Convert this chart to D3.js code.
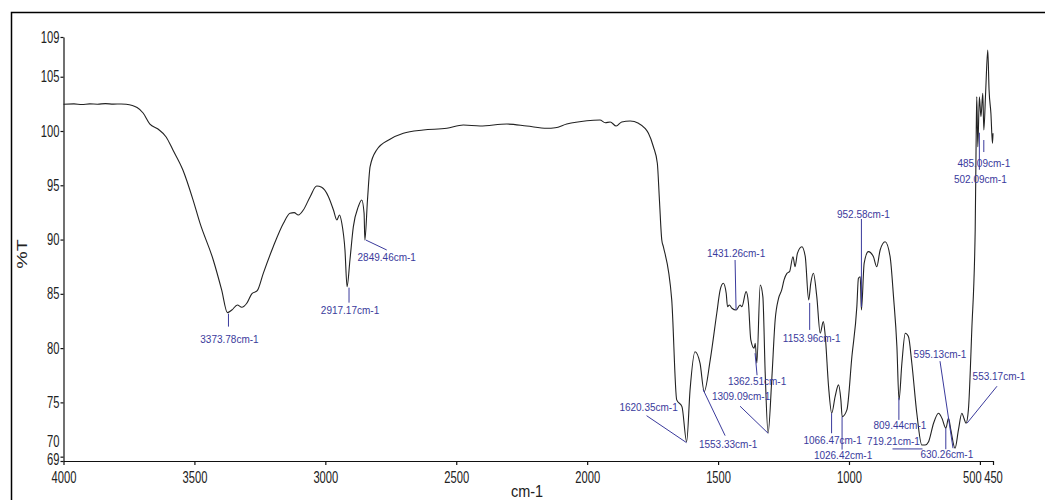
<!DOCTYPE html>
<html><head><meta charset="utf-8">
<script src="https://cdn.jsdelivr.net/npm/d3@7"></script>
<style>body{margin:0;background:#fff;}svg{display:block;}</style>
</head><body>
<svg id="chart" width="1045" height="500"></svg>
<script>
// ---- data (wavenumber cm-1, %T) ----
const wavenumbers = [4000,3960,3930,3900,3870,3840,3810,3780,3761,3719,3696,3670,3639,3608,3582,3544,3505,3479,3428,3396,3374,3357,3336,3319,3300,3281,3260,3237,3199,3160,3135,3119,3103,3084,3058,3033,3014,2988,2969,2956,2946,2937,2925,2917,2906,2893,2874,2861,2852,2849,2839,2829,2804,2753,2702,2626,2536,2473,2409,2307,2231,2154,2122,2078,2001,1951,1931,1912,1889,1868,1836,1804,1779,1766,1747,1732,1724,1715,1709,1677,1658,1638,1620,1607,1588,1569,1553,1530,1505,1492,1480,1469,1464,1457,1447,1431,1416,1409,1393,1384,1375,1362.5,1358,1352,1339,1329,1320,1309,1295,1282,1269,1257,1248,1237,1227,1214,1206,1197,1180,1167,1154,1146,1136,1123,1110,1098,1091,1078,1066,1053,1040,1031,1026,1008,989,970,964,957,952.6,942,926,907,894,881,862,843,830,817,809,798,785,773,760,741,722,709,696,677,658,645,630,620,611,595,582,569,561,553,544,531,518,514,512,508,502,496,489,485,478,470,465,458,452,450];
const transmittance = [102.46,102.50,102.44,102.50,102.47,102.52,102.48,102.49,102.46,102.16,101.66,100.64,100.18,99.45,98.25,96.41,93.64,91.53,88.12,85.36,83.27,83.51,83.97,83.76,84.13,84.99,85.29,86.89,89.34,91.50,92.42,92.48,92.26,92.72,93.95,94.93,94.81,93.95,92.72,91.80,92.26,91.50,89.04,85.66,88.12,91.19,93.03,93.65,92.42,89.96,93.65,96.71,98.25,99.24,99.79,100.09,100.25,100.55,100.46,100.64,100.46,100.25,100.30,100.64,100.95,101.01,100.76,100.83,100.46,100.83,100.92,100.71,100.25,99.79,98.55,97.03,93.65,89.96,89.35,84.44,75.23,74.61,71.38,76.15,79.67,78.61,75.99,78.91,83.21,85.36,85.97,85.05,83.82,83.97,83.67,83.51,83.97,83.82,85.20,84.13,80.75,79.99,80.45,78.61,85.82,84.74,77.68,72.16,77.07,82.59,84.59,85.36,86.28,86.89,87.04,88.42,87.50,88.73,89.34,88.42,84.44,85.97,86.89,84.74,81.37,82.44,81.21,76.45,74.00,75.53,76.61,75.23,73.69,74.31,79.21,83.82,86.43,86.58,83.51,87.82,88.89,88.43,87.50,89.04,89.80,88.42,84.74,80.13,75.23,78.61,81.37,81.06,78.61,74.00,71.08,71.08,71.38,73.08,74.00,73.54,72.62,73.54,72.46,70.78,72.46,74.00,73.54,73.08,74.31,81.67,90.88,100.09,103.16,98.55,103.16,101.32,103.47,100.09,103.62,107.46,103.78,101.63,98.87,99.79];

const xTickValues = [4000,3500,3000,2500,2000,1500,1000,500,450];
const yTickValues = [69.6,70,75,80,85,90,95,100,105,108.66];
const yTickLabels = ["69","70","75","80","85","90","95","100","105","109"];

const peakWavenumbers = [3373.78,2917.17,2849.46,1431.26,1362.51,1309.09,1620.35,1553.33,1153.96,952.58,1066.47,1026.42,809.44,719.21,630.26,595.13,553.17,485.09,502.09];
const peakT = [83.27,85.66,89.96,83.51,79.99,72.16,71.38,75.99,84.44,83.51,74.00,73.69,75.23,71.08,72.62,70.78,73.08,100.09,98.55];
const peakLabels = peakWavenumbers.map(v => v.toFixed(2) + "cm-1");

// ---- layout (offsets of leader lines and labels from each peak) ----
const peakLayout = [
  {l1:[1,1], l2:[1,14], t:[2,27]},
  {l1:[2,1], l2:[2,16], t:[3,24]},
  {l1:[1,0], l2:[22,10], t:[22,18]},
  {l1:[0,0], l2:[-1,-50], t:[0,-57]},
  {l1:[1,5], l2:[3,27], t:[3,33]},
  {l1:[0,0], l2:[-28,-27], t:[-27,-37]},
  {l1:[0,1], l2:[-40,-26], t:[-38,-34]},
  {l1:[-1,-2], l2:[21,44], t:[24,53]},
  {l1:[1,3], l2:[1,30], t:[3,39]},
  {l1:[0,-3], l2:[0,-91], t:[2,-96]},
  {l1:[0,0], l2:[0,20], t:[1,27]},
  {l1:[0,0], l2:[0,33], t:[1,39]},
  {l1:[0,-2], l2:[0,20], t:[1,26]},
  {l1:[0,4], l2:[-30,4], t:[-29,-3]},
  {l1:[0,0], l2:[0,21], t:[1,26]},
  {l1:[-2,0], l2:[-15,-87], t:[-15,-94]},
  {l1:[1,0], l2:[31,-37], t:[33,-47]},
  {l1:[0,10], l2:[0,22], t:[0,33]},
  {l1:[0,-14], l2:[0,23], t:[1,33]}
];

const svg = d3.select("#chart");
const FONT = "'Liberation Sans', Arial, sans-serif";
const x = d3.scaleLinear().domain([4000, 450]).range([63.5, 993]);
const y = d3.scaleLinear().domain([yTickValues[0], yTickValues[yTickValues.length-1]]).range([461, 37]);

// frame
svg.append("rect").attr("x", 11.5).attr("y", 12.5).attr("width", 1100).attr("height", 600)
  .attr("fill", "none").attr("stroke", "#000").attr("stroke-width", 1.5);

const sx = 0.7;
// y axis
const gy = svg.append("g").attr("transform", "translate(63.5,0)")
  .call(d3.axisLeft(y).tickValues(yTickValues).tickFormat((d,i) => yTickLabels[i]).tickSize(3).tickPadding(1).tickSizeOuter(0));
gy.selectAll("path,line").attr("stroke", "#111").attr("stroke-width", 1.2);
gy.selectAll("text").attr("font-family", FONT).attr("font-size", 16).attr("fill", "#222")
  .attr("x", -4 / sx).attr("transform", `scale(${sx},1)`)
  .attr("dy", (d,i) => yTickLabels[i] === "70" ? "-0.62em" : (yTickLabels[i] === "69" ? "0.2em" : "0.32em"));

// x axis
const gx = svg.append("g").attr("transform", "translate(0,461)")
  .call(d3.axisBottom(x).tickValues(xTickValues).tickFormat(d3.format("d")).tickSize(4).tickPadding(7).tickSizeOuter(0));
gx.selectAll("path,line").attr("stroke", "#111").attr("stroke-width", 1.2);
gx.selectAll("text").attr("font-family", FONT).attr("font-size", 16).attr("fill", "#222")
  .attr("transform", `scale(${sx},1)`)
  .attr("x", d => d === 500 ? -8 / sx : 0);

// axis titles
svg.append("text").attr("font-family", FONT).attr("font-size", 17).attr("fill", "#222")
  .attr("text-anchor", "middle")
  .attr("transform", "translate(527,497) scale(0.85,1)").text("cm-1");
svg.append("text").attr("font-family", FONT).attr("font-size", 17).attr("fill", "#222")
  .attr("text-anchor", "middle")
  .attr("transform", "translate(27,254) rotate(-90) scale(1.15,0.85)").text("%T");

// spectrum
const pts = wavenumbers.map((w,i) => [w, transmittance[i]]);
const line = d3.line().x(d => x(d[0])).y(d => y(d[1])).curve(d3.curveMonotoneX);
svg.append("path").datum(pts).attr("d", line).attr("fill", "none")
  .attr("stroke", "#222").attr("stroke-width", 1.1).attr("stroke-linejoin", "round");

// peak annotations
const ANN = "#3a3a9c";
const ga = svg.append("g");
peakWavenumbers.forEach((w,i) => {
  const ax = x(w), ay = y(peakT[i]);
  const L = peakLayout[i];
  ga.append("line").attr("x1", ax + L.l1[0]).attr("y1", ay + L.l1[1])
    .attr("x2", ax + L.l2[0]).attr("y2", ay + L.l2[1])
    .attr("stroke", ANN).attr("stroke-width", 1);
  ga.append("text").attr("x", ax + L.t[0]).attr("y", ay + L.t[1]).attr("dy", "0.35em")
    .attr("text-anchor", "middle").attr("font-family", FONT).attr("font-size", 10)
    .attr("fill", ANN).text(peakLabels[i]);
});
</script>
</body></html>
